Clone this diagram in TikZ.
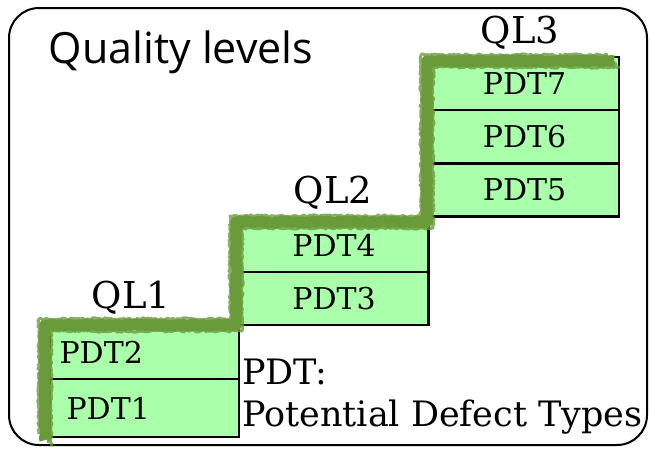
\documentclass[tikz,border=0pt]{standalone}
\usepackage{fontspec}
\setmainfont{DejaVu Serif}
\newfontfamily\titlefont{Open Sans}
\usetikzlibrary{decorations.pathmorphing}
\definecolor{boxgreen}{HTML}{AAFFAA}
\definecolor{stairgreen}{HTML}{6A9B3A}

\begin{document}
\begin{tikzpicture}[x=1pt,y=-1pt,
  pdt/.style={shape=rectangle,draw,line width=2.5pt,fill=boxgreen,outer sep=0pt,
    inner sep=0pt,minimum width=189pt,minimum height=53pt,font=\fontsize{30}{30}\selectfont},
  ql/.style={anchor=base,font=\fontsize{37}{37}\selectfont},
  stair/.style={stairgreen,line width=#1,line join=round,decorate,
    decoration={random steps,segment length=2pt,amplitude=1.2pt}}]
\useasboundingbox (0,0) rectangle (650,448);
\draw[line width=2pt,rounded corners=30pt] (9,8) rectangle (647,445);
\node(title) at (45,63)[anchor=base west,font=\titlefont\fontsize{43}{43}\selectfont] {Quality levels};
% level 1
\node(pdt2) at (144.5,352.5)[pdt,text width=170pt,align=left] {PDT2};
\node(pdt1) at (144.5,408)[pdt,minimum height=58pt,text width=170pt,align=left] {\hspace*{7pt}PDT1};
\node(ql1)  at (131,308)[ql] {QL1};
% level 2
\node(pdt4) at (334,245.5)[pdt] {PDT4};
\node(pdt3) at (334,298.5)[pdt] {PDT3};
\node(ql2)  at (333,203)[ql] {QL2};
% level 3
\node(pdt7) at (524.5,83.5)[pdt] {PDT7};
\node(pdt6) at (524.5,136.5)[pdt] {PDT6};
\node(pdt5) at (524.5,190)[pdt] {PDT5};
\node(ql3)  at (520,43)[ql] {QL3};
% the stair
\draw[stair=11pt] (45,440) -- (45,325) -- (236,325) -- (236,222)
  -- (427,222) -- (427,61) -- (614,61);
\foreach \d in {-6,-3,3,6}
  \draw[stair=3pt,opacity=0.8,shift={(\d,\d)}] (45,440) -- (45,325) -- (236,325)
    -- (236,222) -- (427,222) -- (427,61) -- (614,61);
\node(note) at (242,359)[anchor=north west,align=left,inner sep=0pt,
  font=\fontsize{35}{42}\selectfont] {PDT:\\Potential Defect Types};
\end{tikzpicture}
\end{document}
